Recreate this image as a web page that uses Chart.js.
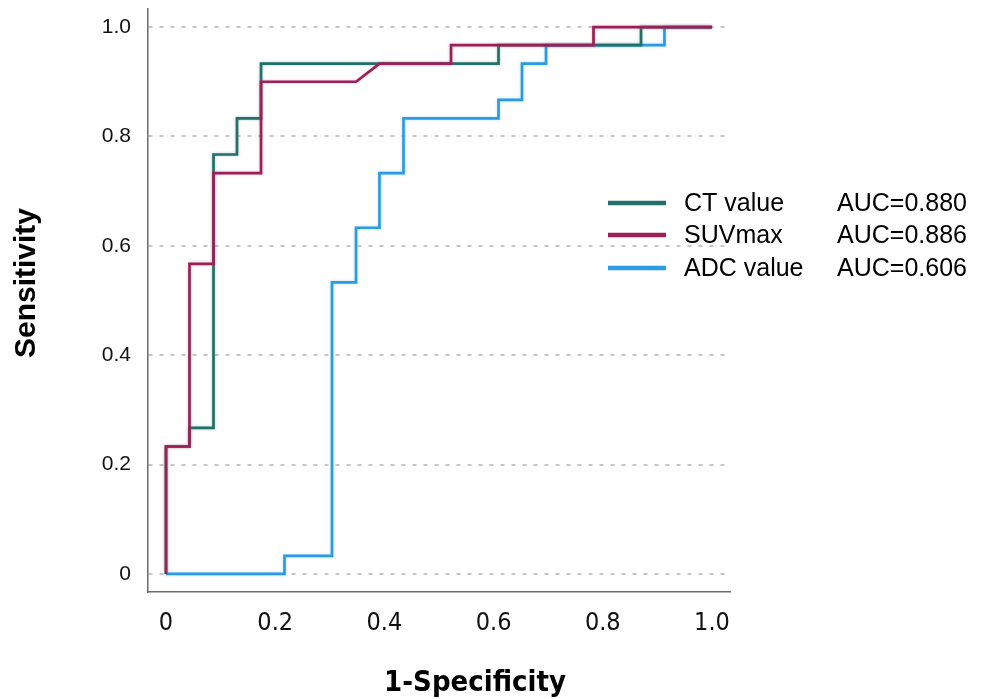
<!DOCTYPE html>
<html>
<head>
<meta charset="utf-8">
<script src="https://cdn.jsdelivr.net/npm/chart.js@4"></script>
<style>
  html, body { margin: 0; padding: 0; background: #fff; }
  #wrap { width: 984px; height: 699px; }
</style>
</head>
<body>
<div id="wrap"><canvas id="roc" width="984" height="699"></canvas></div>
<script>
/* ── data ── */
const seriesNames = ['CT value', 'SUVmax', 'ADC value'];
const aucLabels   = ['AUC=0.880', 'AUC=0.886', 'AUC=0.606'];
const tickValues  = [0, 0.2, 0.4, 0.6, 0.8, 1.0];

const ctX  = [0, 0, 0.043, 0.043, 0.087, 0.087, 0.130, 0.130, 0.174, 0.174, 0.609, 0.609, 0.870, 0.870, 1.0];
const ctY  = [0, 0.233, 0.233, 0.267, 0.267, 0.767, 0.767, 0.833, 0.833, 0.933, 0.933, 0.967, 0.967, 1.0, 1.0];

const suvX = [0, 0, 0.043, 0.043, 0.087, 0.087, 0.174, 0.174, 0.348, 0.391, 0.522, 0.522, 0.783, 0.783, 1.0];
const suvY = [0, 0.233, 0.233, 0.567, 0.567, 0.733, 0.733, 0.900, 0.900, 0.933, 0.933, 0.967, 0.967, 1.0, 1.0];

const adcX = [0, 0.217, 0.217, 0.304, 0.304, 0.348, 0.348, 0.391, 0.391, 0.435, 0.435, 0.609, 0.609, 0.652, 0.652, 0.696, 0.696, 0.913, 0.913, 1.0];
const adcY = [0, 0, 0.033, 0.033, 0.533, 0.533, 0.633, 0.633, 0.733, 0.733, 0.833, 0.833, 0.867, 0.867, 0.933, 0.933, 0.967, 0.967, 1.0, 1.0];

const colors = ['#23706a', '#9c1f56', '#2b9be3'];
const glows  = ['rgba(35,112,106,0.35)', 'rgba(200,80,130,0.35)', 'rgba(120,190,240,0.5)'];

const toPts = (xs, ys) => xs.map((x, i) => ({ x, y: ys[i] }));

const AX_MIN = -0.033, AX_MAX = 1.033;
const SANS   = '"Liberation Sans", Arial, sans-serif';
const NARROW = '"Liberation Sans Narrow", "DejaVu Sans Condensed", Arial, sans-serif';

/* soft edge round each line, like the scanned figure */
const glowPlugin = {
  id: 'glow',
  beforeDatasetDraw(chart, args) {
    const c = chart.ctx;
    c.save();
    c.shadowColor = glows[args.index];
    c.shadowBlur  = 3;
  },
  afterDatasetDraw(chart) { chart.ctx.restore(); },
};

/* legend with two columns + axis titles */
const extrasPlugin = {
  id: 'extras',
  afterDraw(chart) {
    const c = chart.ctx;
    c.save();
    const rows = [203, 235, 268];
    rows.forEach((y, i) => {
      c.strokeStyle = colors[i];
      c.lineWidth   = 4.5;
      c.beginPath();
      c.moveTo(608, y);
      c.lineTo(666, y);
      c.stroke();
      c.fillStyle    = '#000';
      c.font         = '25px ' + SANS;
      c.textBaseline = 'middle';
      c.textAlign    = 'left';
      c.fillText(chart.data.datasets[i].label, 684, y + 1);
      c.fillText(aucLabels[i], 837, y + 1);
    });

    c.fillStyle    = '#000';
    c.textAlign    = 'center';
    c.textBaseline = 'middle';
    c.font = 'bold 29px ' + NARROW;
    c.fillText('1-Specificity', 475, 683);

    c.translate(27, 283);
    c.rotate(-Math.PI / 2);
    c.font = 'bold 30px ' + SANS;
    c.fillText('Sensitivity', 0, 0);
    c.restore();
  },
};

const fmtTick = v => (v === 0 ? '0' : v.toFixed(1));

new Chart(document.getElementById('roc'), {
  type: 'line',
  data: {
    datasets: [
      { label: seriesNames[0], data: toPts(ctX, ctY),  borderColor: colors[0], order: 1 },
      { label: seriesNames[1], data: toPts(suvX, suvY), borderColor: colors[1], order: 0 },
      { label: seriesNames[2], data: toPts(adcX, adcY), borderColor: colors[2], order: 2 },
    ],
  },
  options: {
    responsive : false,
    animation  : false,
    parsing    : false,
    layout     : { padding: { top: 9, right: 254, left: 0, bottom: 0 } },
    elements   : {
      line : { borderWidth: 2.7, tension: 0, fill: false, borderCapStyle: 'butt' },
      point: { radius: 0, hoverRadius: 0 },
    },
    plugins: {
      legend : { display: false },
      tooltip: { enabled: false },
    },
    scales: {
      x: {
        type: 'linear',
        min : AX_MIN,
        max : AX_MAX,
        afterBuildTicks: s => { s.ticks = tickValues.map(v => ({ value: v })); },
        afterFit: s => { s.height = 107; s.paddingLeft = 0; s.paddingRight = 0; },
        grid  : { display: false, drawTicks: false },
        border: { display: true, color: '#6b6b6b', width: 1.5 },
        ticks : {
          callback: fmtTick,
          color: '#111',
          padding: 16,
          maxRotation: 0,
          font: { family: NARROW, size: 25 },
        },
      },
      y: {
        type: 'linear',
        min : AX_MIN,
        max : AX_MAX,
        afterBuildTicks: s => { s.ticks = tickValues.map(v => ({ value: v })); },
        afterFit: s => { s.width = 148; s.paddingTop = 0; s.paddingBottom = 0; },
        grid  : {
          color: '#c6c6c6',
          lineWidth: 2,
          drawTicks: false,
          tickLength: 0,
        },
        border: { display: true, color: '#6b6b6b', width: 1.5, dash: [4, 7] },
        ticks : {
          callback: fmtTick,
          color: '#111',
          padding: 17,
          font: { family: SANS, size: 21 },
        },
      },
    },
  },
  plugins: [glowPlugin, extrasPlugin],
});
</script>
</body>
</html>
